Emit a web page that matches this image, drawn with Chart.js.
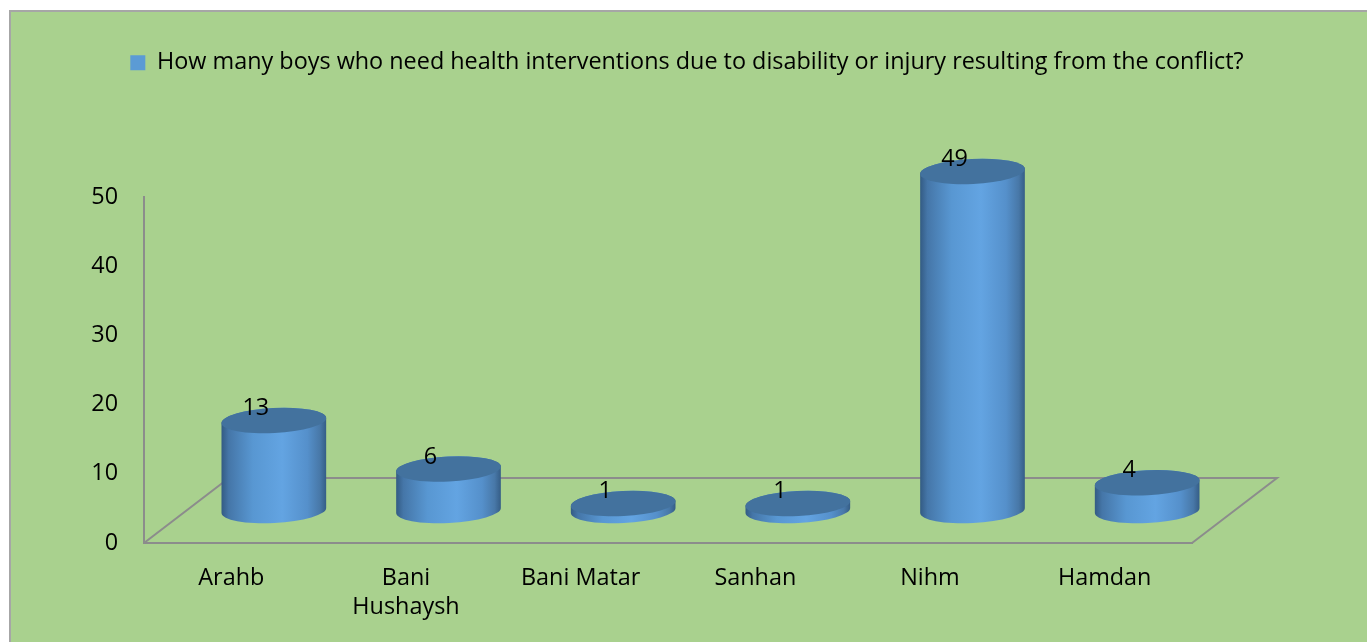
<!DOCTYPE html>
<html>
<head>
<meta charset="utf-8">
<title>Boys needing health interventions</title>
<script src="https://cdn.jsdelivr.net/npm/chart.js@4.4.1/dist/chart.umd.min.js"></script>
<style>
  html, body { margin: 0; padding: 0; background: #fff; overflow: hidden; }
  #frame {
    position: absolute; left: 9px; top: 10px; width: 1400px; height: 700px;
    background: #a9d18e; border-left: 2px solid #a6a6a6; border-top: 2px solid #a6a6a6;
  }
  #boysChart { position: absolute; left: 0; top: 0; }
</style>
</head>
<body>
<div id="frame"></div>
<canvas id="boysChart" width="1367" height="642"></canvas>
<script>
const districts = ['Arahb', ['Bani', 'Hushaysh'], 'Bani Matar', 'Sanhan', 'Nihm', 'Hamdan'];
const boysCounts = [13, 6, 1, 1, 49, 4];
const yTicks = [0, 10, 20, 30, 40, 50];
const seriesName = 'How many boys who need health interventions due to disability or injury resulting from the conflict?';

const FONT = 'Open Sans';
const FONT_SIZE = 23.4;
const DEPTH_X = 85;   // floor depth, sideways
const DEPTH_Y = 65;   // floor depth, upwards
const TILT = -0.05;   // slight turn of the cylinder ends

function drawCylinder(ctx, cx, topY, baseY, rx, ry) {
  const side = ctx.createLinearGradient(cx - rx, 0, cx + rx, 0);
  side.addColorStop(0, '#335b83');
  side.addColorStop(0.07, '#4576a8');
  side.addColorStop(0.3, '#5897d2');
  side.addColorStop(0.58, '#63a4e2');
  side.addColorStop(0.82, '#5590cb');
  side.addColorStop(0.94, '#4878a8');
  side.addColorStop(1, '#355d86');

  ctx.beginPath();
  ctx.ellipse(cx, baseY, rx, ry, TILT, Math.PI, 0, true);
  ctx.ellipse(cx, topY, rx, ry, TILT, 0, Math.PI, true);
  ctx.closePath();
  ctx.fillStyle = side;
  ctx.fill();

  ctx.beginPath();
  ctx.ellipse(cx, topY, rx, ry, TILT, 0, Math.PI * 2);
  ctx.fillStyle = '#43729e';
  ctx.fill();
}

const cylinders = {
  id: 'cylinders',
  beforeDatasetsDraw(chart) {
    const {ctx, chartArea: a} = chart;
    ctx.save();

    // floor outline behind the bars
    ctx.strokeStyle = '#8c8c8c';
    ctx.lineWidth = 2;
    ctx.beginPath();
    ctx.moveTo(a.left, a.bottom);
    ctx.lineTo(a.left + DEPTH_X, a.bottom - DEPTH_Y);
    ctx.lineTo(a.right + DEPTH_X, a.bottom - DEPTH_Y);
    ctx.lineTo(a.right, a.bottom);
    ctx.stroke();

    const meta = chart.getDatasetMeta(0);
    meta.data.forEach(bar => {
      const p = bar.getProps(['x', 'y', 'base', 'width'], true);
      const cx = p.x + DEPTH_X / 2;
      drawCylinder(ctx, cx, p.y - DEPTH_Y / 2, p.base - DEPTH_Y / 2, p.width / 2, 12.5);
    });

    ctx.font = FONT_SIZE + 'px "' + FONT + '"';
    ctx.fillStyle = '#000';
    ctx.textAlign = 'center';
    ctx.textBaseline = 'middle';
    meta.data.forEach((bar, i) => {
      const p = bar.getProps(['x', 'y'], true);
      ctx.fillText(String(boysCounts[i]), p.x + DEPTH_X / 2 - 18, p.y - DEPTH_Y / 2 - 12);
    });

    ctx.restore();
    return false;
  }
};

new Chart(document.getElementById('boysChart'), {
  type: 'bar',
  data: {
    labels: districts,
    datasets: [{
      label: seriesName,
      data: boysCounts,
      backgroundColor: '#5b9bd5',
      categoryPercentage: 1,
      barPercentage: 0.6
    }]
  },
  options: {
    responsive: false,
    animation: false,
    devicePixelRatio: 1,
    layout: { padding: { left: 7, right: 0, top: 41, bottom: 0 } },
    plugins: {
      legend: {
        position: 'top',
        weight: 3000,
        labels: {
          boxWidth: 15, boxHeight: 15, padding: 10, color: '#000',
          font: { family: FONT, size: FONT_SIZE }
        }
      },
      // empty spacer between the legend and the plot
      title: {
        display: true, text: '', weight: 2000,
        font: { size: 10, lineHeight: 1 },
        padding: { top: 0, bottom: 102.6 }
      },
      tooltip: { enabled: false }
    },
    scales: {
      x: {
        grid: { display: false, drawTicks: false },
        border: { display: true, color: '#8c8c8c', width: 2 },
        ticks: { color: '#000', padding: 21, font: { family: FONT, size: FONT_SIZE, lineHeight: 1.24 }, maxRotation: 0 },
        afterFit(s) { s.height = 99; }
      },
      y: {
        min: 0, max: 50,
        grid: { display: false, drawTicks: false },
        border: { display: true, color: '#8c8c8c', width: 2 },
        ticks: { color: '#000', padding: 26, font: { family: FONT, size: FONT_SIZE } },
        afterBuildTicks(s) { s.ticks = yTicks.map(v => ({ value: v })); },
        afterFit(s) { s.width = 137; }
      },
      depth: {
        type: 'linear',
        position: 'right',
        grid: { display: false, drawTicks: false },
        border: { display: false },
        ticks: { display: false },
        afterFit(s) { s.width = 175; }
      }
    }
  },
  plugins: [cylinders]
});
</script>
</body>
</html>
